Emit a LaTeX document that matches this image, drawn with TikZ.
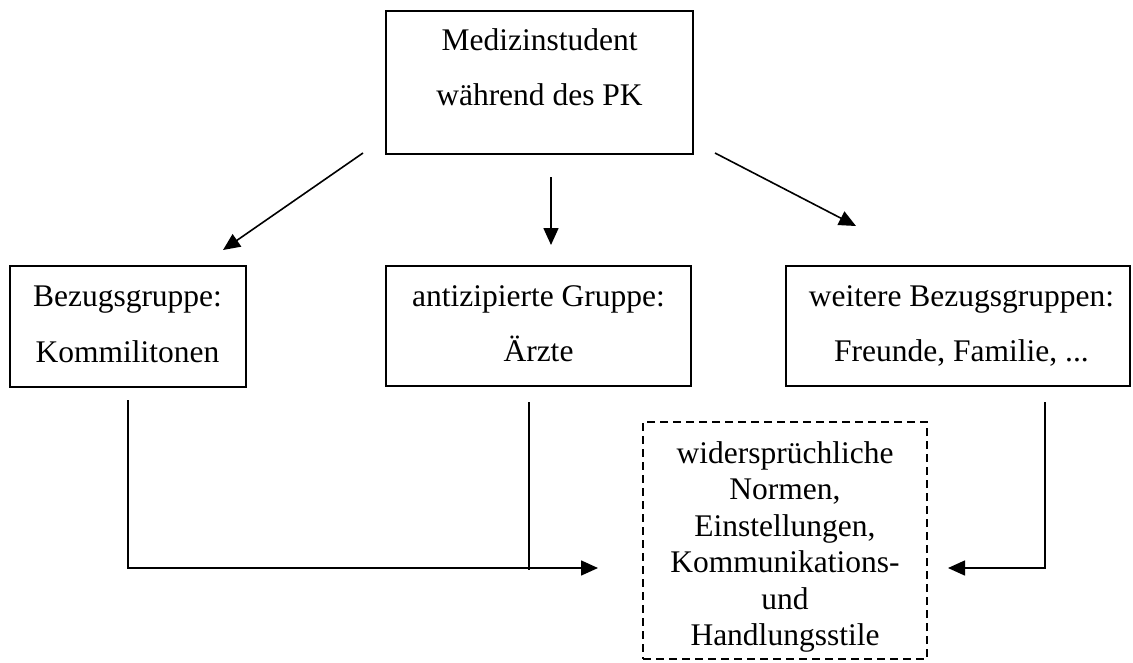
\documentclass[tikz,border=0pt]{standalone}
\usepackage{fontspec}
\setmainfont{Liberation Serif}
\usetikzlibrary{arrows.meta}
\tikzset{
  boxshape/.style={draw, line width=1.6pt, rectangle, inner sep=0pt, outer sep=0pt},
  dashbox/.style={draw, line width=1.6pt, rectangle, inner sep=0pt, outer sep=0pt, dash pattern=on 8pt off 5pt},
  bigtext/.style={align=center, inner sep=0pt, font=\fontsize{31.5}{55.5}\selectfont},
  smalltext/.style={align=center, inner sep=0pt, font=\fontsize{31.5}{36.5}\selectfont},
  conn/.style={line width=1.6pt},
  arr/.style={line width=1.6pt, -{Triangle[length=17pt,width=15pt]}},
}
\begin{document}
\begin{tikzpicture}[x=1pt,y=-1pt]
\useasboundingbox (0,0) rectangle (1133,662);
% boxes
\node[boxshape, minimum width=307pt, minimum height=143pt] (top) at (539.5,82.5) {};
\node[boxshape, minimum width=236pt, minimum height=121pt] (left) at (128,326.5) {};
\node[boxshape, minimum width=305pt, minimum height=120pt] (mid) at (538.5,326) {};
\node[boxshape, minimum width=344pt, minimum height=120pt] (right) at (958,326) {};
\node[dashbox, minimum width=284pt, minimum height=237pt] (goal) at (785,540.5) {};
% texts
\node[bigtext] (toptxt) at (539.5,66.9) {\strut Medizinstudent\\\strut während des PK};
\node[bigtext] (lefttxt) at (127.5,323.4) {\strut Bezugsgruppe:\\\strut Kommilitonen};
\node[bigtext] (midtxt) at (538.5,323.1) {\strut antizipierte Gruppe:\\\strut Ärzte};
\node[bigtext] (righttxt) at (961.5,323) {\strut weitere Bezugsgruppen:\\\strut Freunde, Familie, ...};
\node[smalltext] (goaltxt) at (785,547) {\strut widersprüchliche\\\strut Normen,\\\strut Einstellungen,\\\strut Kommunikations-\\\strut und\\\strut Handlungsstile};
% arrow end points
\coordinate (a1s) at (363,153);
\coordinate (a1e) at (223,250);
\coordinate (a2s) at (551,177);
\coordinate (a2e) at (551,245);
\coordinate (a3s) at (715,153);
\coordinate (a3e) at (856,226);
\coordinate (l1s) at (128,400);
\coordinate (l1c) at (128,568);
\coordinate (l1e) at (598,568);
\coordinate (l2s) at (529,402);
\coordinate (l2e) at (529,570);
\coordinate (l3s) at (1045,402);
\coordinate (l3c) at (1045,568);
\coordinate (l3e) at (948,568);
% connectors
\draw[arr] (a1s) -- (a1e);
\draw[arr] (a2s) -- (a2e);
\draw[arr] (a3s) -- (a3e);
\draw[arr] (l1s) -- (l1c) -- (l1e);
\draw[conn] (l2s) -- (l2e);
\draw[arr] (l3s) -- (l3c) -- (l3e);
\end{tikzpicture}
\end{document}
